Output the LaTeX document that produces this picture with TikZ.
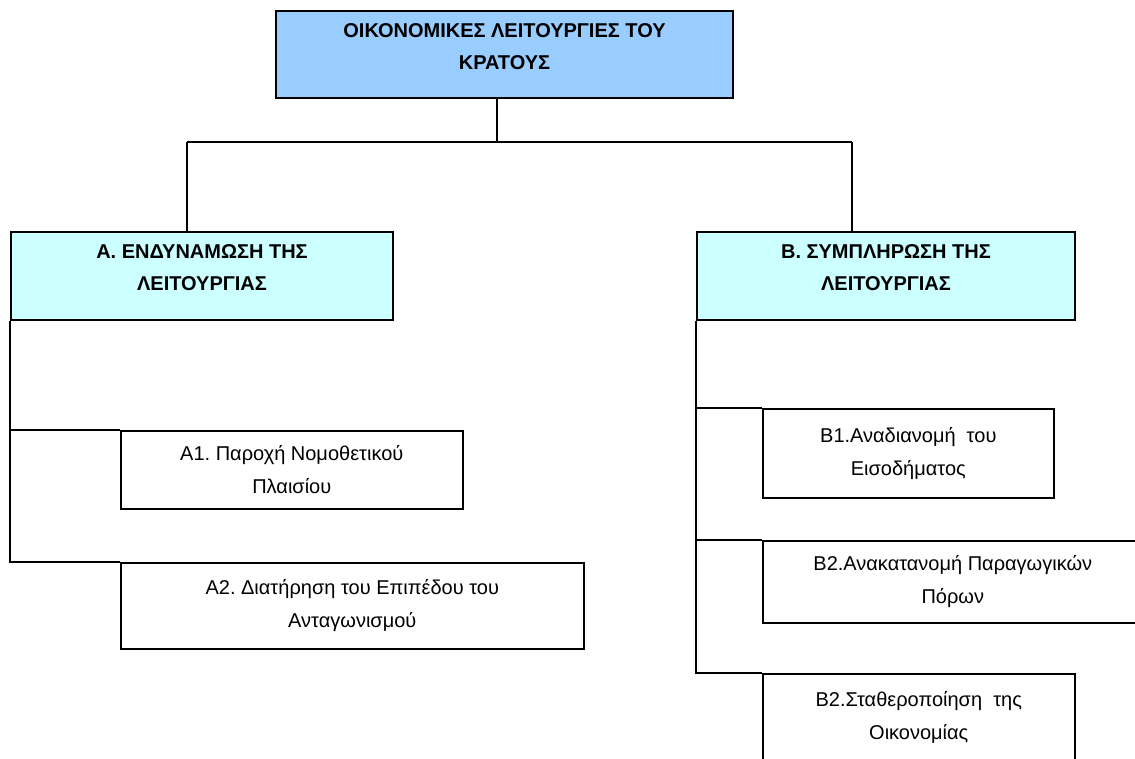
\documentclass[tikz,border=0pt]{standalone}
\usepackage{fontspec}
\setmainfont{Liberation Sans}
\usepackage{tikz}
\definecolor{topblue}{RGB}{153,204,255}
\definecolor{paleblue}{RGB}{204,255,255}
\frenchspacing

\begin{document}
\begin{tikzpicture}[x=1pt, y=-1pt, line width=1.6pt,
    box/.style={draw, line width=1.6pt, anchor=north west, inner sep=0pt, align=center, font=\fontsize{20}{33}\selectfont},
    head/.style={box, line width=2pt, text depth=16pt, font=\bfseries\fontsize{20}{32}\selectfont}]

    \useasboundingbox (0, 0) rectangle (1135, 759);
    \clip (0, 0) rectangle (1135, 759);

    \node[head, fill=topblue, minimum width=457pt, minimum height=87pt] (t) at (275, 10) {ΟΙΚΟΝΟΜΙΚΕΣ ΛΕΙΤΟΥΡΓΙΕΣ ΤΟΥ\\ΚΡΑΤΟΥΣ};
    \node[head, fill=paleblue, minimum width=382pt, minimum height=88pt] (a) at (10, 231) {Α. ΕΝΔΥΝΑΜΩΣΗ ΤΗΣ\\ΛΕΙΤΟΥΡΓΙΑΣ};
    \node[head, fill=paleblue, minimum width=378pt, minimum height=88pt] (b) at (696, 231) {Β. ΣΥΜΠΛΗΡΩΣΗ ΤΗΣ\\ΛΕΙΤΟΥΡΓΙΑΣ};

    \node[box, minimum width=342pt, minimum height=78pt] (a1) at (120, 430) {Α1. Παροχή Νομοθετικού\\Πλαισίου};
    \node[box, minimum width=463pt, minimum height=86pt] (a2) at (120, 562) {Α2. Διατήρηση του Επιπέδου του\\Ανταγωνισμού};
    \node[box, minimum width=291pt, minimum height=89pt] (b1) at (762, 408) {Β1.Αναδιανομή~ του\\Εισοδήματος};
    \node[box, minimum width=380pt, minimum height=82pt] (b2) at (762, 540) {Β2.Ανακατανομή Παραγωγικών\\Πόρων};
    \node[box, minimum width=312pt, minimum height=88pt] (b3) at (762, 673) {Β2.Σταθεροποίηση~ της\\Οικονομίας};

    \coordinate (m) at (497, 142);
    \coordinate (l) at (187, 142);
    \coordinate (r) at (852, 142);

    \draw (m |- t.south) -- (m);
    \draw (l) -- (r);
    \draw (l) -- (l |- a.north);
    \draw (r) -- (r |- b.north);
    \draw (a.south west) |- (a2.north west);
    \draw (a.south west |- a1.north west) -- (a1.north west);
    \draw (b.south west) |- (b3.north west);
    \draw (b.south west |- b1.north west) -- (b1.north west);
    \draw (b.south west |- b2.north west) -- (b2.north west);

\end{tikzpicture}
\end{document}
